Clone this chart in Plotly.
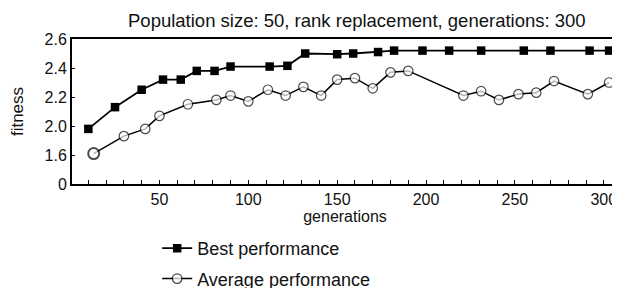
import numpy as np
import plotly.graph_objects as go

# ---- data ----
best_generations = [10, 25, 40, 52, 62, 71, 81, 90, 112, 122, 132, 150, 159, 173, 182,
                    198, 213, 231, 255, 270, 292, 303]
best_fitness = [1.96, 2.13, 2.25, 2.32, 2.32, 2.38, 2.38, 2.41, 2.41, 2.415, 2.50, 2.495,
                2.50, 2.51, 2.52, 2.52, 2.52, 2.52, 2.52, 2.52, 2.52, 2.52]

avg_generations = [13, 30, 42, 50, 66, 82, 90, 100, 111, 121, 131, 141, 150, 160, 170,
                   180, 190, 221, 231, 241, 252, 262, 272, 291, 303]
avg_fitness = [1.62, 1.86, 1.96, 2.07, 2.15, 2.18, 2.21, 2.17, 2.25, 2.21, 2.27, 2.21,
               2.32, 2.33, 2.26, 2.37, 2.38, 2.21, 2.24, 2.18, 2.22, 2.23, 2.31, 2.22, 2.30]

# broken (non-linear) y axis: tick values are equally spaced on screen
y_tick_values = [0, 1.6, 2.0, 2.2, 2.4, 2.6]
y_tick_labels = ["0", "1.6", "2.0", "2.2", "2.4", "2.6"]
x_tick_values = [50, 100, 150, 200, 250, 300]

title_text = "Population size: 50, rank replacement, generations: 300"

# ---- scale for the broken axis ----
y_scale_pos = np.arange(len(y_tick_values))


def to_axis(v):
    return np.interp(v, y_tick_values, y_scale_pos)


FONT = "Liberation Sans, Arial, sans-serif"
INK = "#111"

fig = go.Figure()
fig.add_trace(go.Scatter(
    x=best_generations, y=to_axis(best_fitness), name="Best performance",
    mode="lines+markers", legendgroup="best",
    line=dict(color="black", width=1.8),
    marker=dict(symbol="square", size=8.5, color="black"),
    cliponaxis=False,
))
avg_sizes = [11] + [9.5] * (len(avg_generations) - 1)
avg_lw = [2] + [1.2] * (len(avg_generations) - 1)
fig.add_trace(go.Scatter(
    x=avg_generations, y=to_axis(avg_fitness), name="Average performance",
    mode="lines+markers", legendgroup="avg",
    line=dict(color="black", width=1.5),
    marker=dict(symbol="circle", size=avg_sizes, color="white",
                line=dict(color="black", width=avg_lw)),
    cliponaxis=False,
))

# the page body adds an 8 px margin, so the figure is sized/offset for it
fig.update_layout(
    width=612, height=280,
    margin=dict(l=64, r=2, t=31, b=104, autoexpand=False),
    paper_bgcolor="white", plot_bgcolor="white",
    font=dict(family=FONT, color=INK, size=16),
    title=dict(text=title_text, x=0.570, xanchor="center", y=0.957, yanchor="middle",
               font=dict(size=18.5, family=FONT, color=INK)),
    showlegend=True,
    legend=dict(x=0.156, xanchor="left", y=-0.317, yanchor="top",
                font=dict(size=18, family=FONT, color=INK),
                traceorder="grouped", tracegroupgap=4,
                bgcolor="rgba(0,0,0,0)"),
    xaxis=dict(
        range=[0.8, 308], tickmode="array", tickvals=x_tick_values,
        ticks="inside", ticklen=4, tickcolor="black", tickwidth=1,
        minor=dict(dtick=10, ticks="inside", ticklen=4, tickcolor="black", tickwidth=1),
        showline=True, linecolor="black", linewidth=2, mirror=True,
        showgrid=False, zeroline=False, automargin=False,
        tickfont=dict(size=16, family=FONT, color=INK),
        title=dict(text="generations", standoff=3, font=dict(size=16, family=FONT, color=INK)),
    ),
    yaxis=dict(
        range=[0, 5], tickmode="array", tickvals=list(y_scale_pos), ticktext=y_tick_labels,
        ticks="inside", ticklen=3, tickcolor="black",
        showline=True, linecolor="black", linewidth=2, mirror=True,
        showgrid=False, zeroline=False, automargin=False,
        tickfont=dict(size=16, family=FONT, color=INK),
        title=dict(text="fitness", standoff=33, font=dict(size=17, family=FONT, color=INK)),
    ),
)

fig.write_html("out.html")
